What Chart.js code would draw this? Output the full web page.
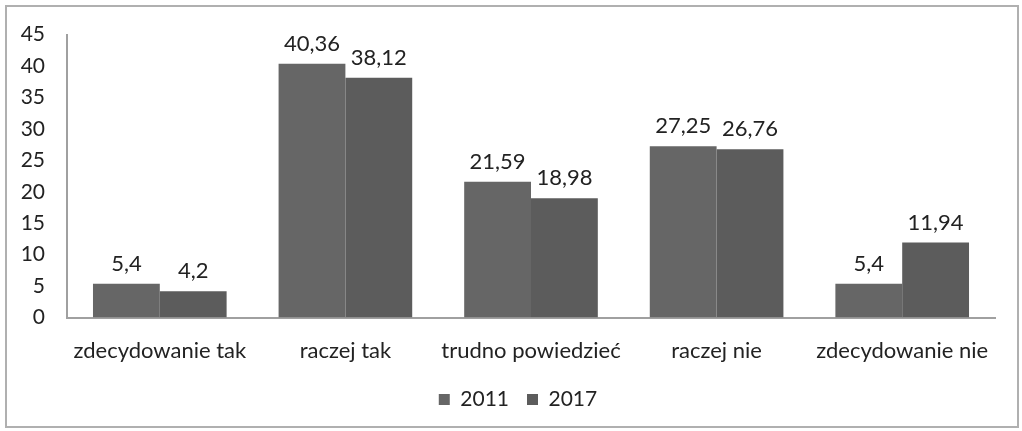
<!DOCTYPE html>
<html>
<head>
<meta charset="utf-8">
<script src="https://cdn.jsdelivr.net/npm/chart.js@4"></script>
<style>
  html, body { margin: 0; padding: 0; background: #fff; }
  #wrap { position: relative; width: 1022px; height: 431px; }
  #frame { position: absolute; left: 5px; top: 5px; width: 1010px; height: 419px; border: 2px solid #b0b0b0; pointer-events: none; }
</style>
</head>
<body>
<div id="wrap">
  <canvas id="answersChart"></canvas>
  <div id="frame"></div>
</div>
<script>
const categories = ["zdecydowanie tak", "raczej tak", "trudno powiedzieć", "raczej nie", "zdecydowanie nie"];
const values2011 = [5.4, 40.36, 21.59, 27.25, 5.4];
const values2017 = [4.2, 38.12, 18.98, 26.76, 11.94];
const seriesLabels = ["2011", "2017"];

const FONT = "Lato, 'Open Sans', sans-serif";

// value labels above the bars, with comma decimals
const barLabels = {
  id: "barLabels",
  afterDatasetsDraw(chart) {
    const ctx = chart.ctx;
    ctx.save();
    ctx.font = "22px " + FONT;
    ctx.fillStyle = "#222";
    ctx.textAlign = "center";
    ctx.textBaseline = "bottom";
    chart.data.datasets.forEach((ds, i) => {
      chart.getDatasetMeta(i).data.forEach((bar, j) => {
        ctx.fillText(String(ds.data[j]).replace(".", ","), bar.x, bar.y - 9);
      });
    });
    ctx.restore();
  }
};

// nudge the legend a bit left of the plot centre
const legendShift = {
  id: "legendShift",
  afterLayout(chart) {
    if (chart.legend) chart.legend.left -= 26;
  }
};

document.addEventListener("DOMContentLoaded", function () {
  const canvas = document.getElementById("answersChart");
  const ctx = canvas.getContext("2d");
  new Chart(ctx, {
    type: "bar",
    data: {
      labels: categories,
      datasets: [
        { label: seriesLabels[0], data: values2011, backgroundColor: "#666666" },
        { label: seriesLabels[1], data: values2017, backgroundColor: "#5c5c5c" },
      ],
    },
    options: {
      responsive: true,
      maintainAspectRatio: false,
      animation: false,
      layout: { padding: { left: 10, right: 27, top: 20, bottom: 11 } },
      categoryPercentage: 0.72,
      barPercentage: 1.0,
      scales: {
        x: {
          afterFit(scale) { scale.height -= 13; },
          grid: { display: false, drawTicks: false },
          border: { color: "#a0a0a0", width: 2 },
          ticks: { color: "#222", font: { family: FONT, size: 22 }, padding: 20 },
        },
        y: {
          min: 0,
          max: 45,
          afterFit(scale) { scale.width = 57; },
          grid: { display: false, drawTicks: false },
          border: { color: "#a0a0a0", width: 2 },
          ticks: { stepSize: 5, color: "#222", font: { family: FONT, size: 21 }, padding: 22 },
        },
      },
      plugins: {
        legend: {
          position: "bottom",
          fullSize: false,
          labels: {
            color: "#222",
            font: { family: FONT, size: 21 },
            boxWidth: 11,
            boxHeight: 11,
            padding: 18,
          },
        },
        tooltip: { enabled: false },
      },
    },
    plugins: [barLabels, legendShift],
  });
});
</script>
</body>
</html>
